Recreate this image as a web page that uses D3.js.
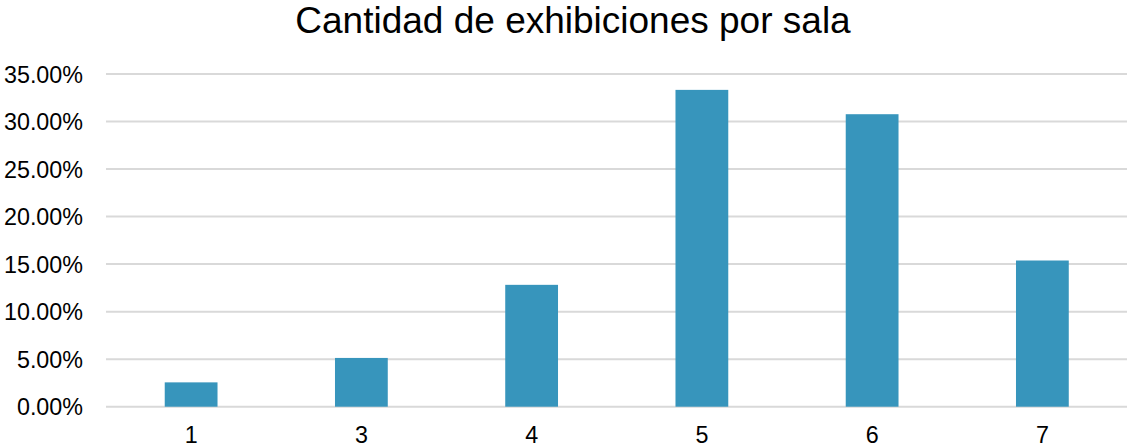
<!DOCTYPE html>
<html>
<head>
<meta charset="utf-8">
<script src="https://cdn.jsdelivr.net/npm/d3@7"></script>
<style>
  html, body { margin: 0; padding: 0; background: #fff; }
  svg { display: block; }
</style>
</head>
<body>
<svg id="chart" width="1127" height="447"></svg>
<script>
const title = "Cantidad de exhibiciones por sala";
const categories = ["1", "3", "4", "5", "6", "7"];
const values = [0.0256, 0.0513, 0.1282, 0.3333, 0.3077, 0.1538];
const yTicks = [0, 0.05, 0.10, 0.15, 0.20, 0.25, 0.30, 0.35];

(function () {
const svg = d3.select("#chart");
const W = 1127, H = 447;
const mLeft = 106, mRight = 1127.5, mTop = 74, mBottom = 406.7;
const font = "'Liberation Sans', Arial, sans-serif";

const x = d3.scaleBand().domain(categories).range([mLeft, mRight])
  .paddingInner(0.69).paddingOuter(0.345);
const y = d3.scaleLinear().domain([0, 0.35]).range([mBottom, mTop]);

svg.append("rect").attr("width", W).attr("height", H).attr("fill", "#fff");

// gridlines
svg.append("g").selectAll("line").data(yTicks).join("line")
  .attr("x1", mLeft).attr("x2", mRight)
  .attr("y1", d => y(d)).attr("y2", d => y(d))
  .attr("stroke", "#d9d9d9").attr("stroke-width", 2);

// bars
svg.append("g").selectAll("rect").data(values).join("rect")
  .attr("x", (d, i) => x(categories[i]))
  .attr("width", x.bandwidth())
  .attr("y", d => y(d))
  .attr("height", d => y(0) - y(d))
  .attr("fill", "#3795bc");

// y axis
const yAxis = d3.axisLeft(y).tickValues(yTicks).tickFormat(d3.format(".2%")).tickSize(0).tickPadding(0);
const gy = svg.append("g").attr("transform", `translate(83,0)`).call(yAxis);
gy.select(".domain").remove();
gy.selectAll("text").attr("font-family", font).attr("font-size", 23.3).attr("fill", "#000").attr("dy", "0.35em");

// x axis
const xAxis = d3.axisBottom(x).tickSize(0).tickPadding(0);
const gx = svg.append("g").attr("transform", `translate(0,${mBottom})`).call(xAxis);
gx.select(".domain").remove();
gx.selectAll("text").attr("font-family", font).attr("font-size", 23.3).attr("fill", "#000")
  .attr("dy", null).attr("y", 36.5);

// title
svg.append("text").attr("x", (295 + 851) / 2).attr("y", 33)
  .attr("text-anchor", "middle").attr("font-family", font).attr("font-size", 37)
  .attr("fill", "#000").text(title);
})();
</script>
</body>
</html>
